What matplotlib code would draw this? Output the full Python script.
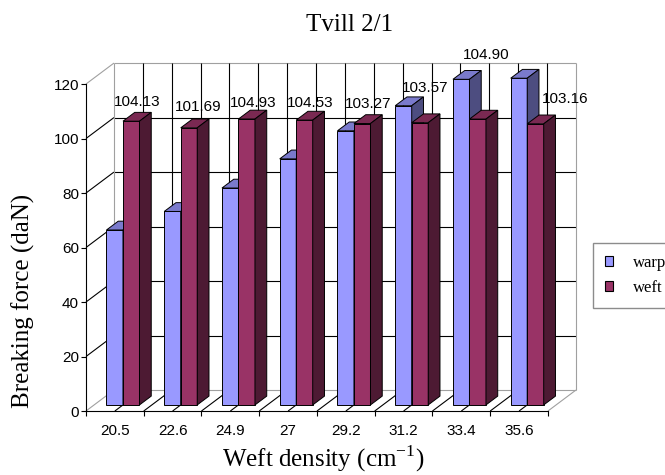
import matplotlib.pyplot as plt
from matplotlib.patches import Polygon, Patch

densidad = ["20.5", "22.6", "24.9", "27", "29.2", "31.2", "33.4", "35.6"]
warp = [64.2, 71.0, 79.6, 90.3, 100.6, 109.8, 119.5, 119.9]
weft = [104.13, 101.69, 104.93, 104.53, 103.27, 103.57, 104.90, 103.16]
y_ticks = [0, 20, 40, 60, 80, 100, 120]

# where each weft label sits, in pixels from the top of its bar
label_dx = [6, 9, 6, 6, 6, 5, 8, 30]
label_dy = [19, 21, 16, 17, 20, 35, 64, 25]

# fake 3d: depth of the box in data units, bars sit in the middle of it
DEPTH_X = 0.485
DEPTH_Y = 7.7
Z_FRONT, Z_BACK = 0.29, 0.71
BAR_W = 0.2857
YMAX = 120

WARP_COLORS = ("#9999FF", "#7A7ACC", "#4D4D80")
WEFT_COLORS = ("#993366", "#7A2952", "#4D1A33")

SANS = "Liberation Sans"
SERIF = "Liberation Serif"
plt.rcParams["mathtext.fontset"] = "custom"
plt.rcParams["mathtext.rm"] = SERIF


def linea(ax, x, y, color="black"):
    ax.plot(x, y, color=color, lw=0.8, clip_on=False, zorder=1,
            solid_capstyle="butt")


def caja(ax, x0, x1, h, colores):
    fx, fy = Z_FRONT * DEPTH_X, Z_FRONT * DEPTH_Y
    bx, by = Z_BACK * DEPTH_X, Z_BACK * DEPTH_Y
    frente = [(x0 + fx, fy), (x1 + fx, fy), (x1 + fx, h + fy), (x0 + fx, h + fy)]
    techo = [(x0 + fx, h + fy), (x1 + fx, h + fy), (x1 + bx, h + by), (x0 + bx, h + by)]
    lado = [(x1 + fx, fy), (x1 + bx, by), (x1 + bx, h + by), (x1 + fx, h + fy)]
    for puntos, c in zip((frente, techo, lado), colores):
        ax.add_patch(Polygon(puntos, closed=True, facecolor=c, edgecolor="black",
                             lw=0.7, clip_on=False, zorder=3))


def paredes(ax, n):
    gris = "#A0A0A0"
    # back wall and left wall grid
    for v in y_ticks:
        c = gris if v in (0, YMAX) else "black"
        linea(ax, [0, DEPTH_X], [v, v + DEPTH_Y], c)
        linea(ax, [DEPTH_X, n + DEPTH_X], [v + DEPTH_Y, v + DEPTH_Y], c)
    # floor and back wall vertical lines every half category
    for k in range(1, 2 * n):
        x = k / 2
        linea(ax, [x, x + DEPTH_X], [0, DEPTH_Y])
        linea(ax, [x + DEPTH_X, x + DEPTH_X], [DEPTH_Y, YMAX + DEPTH_Y])
    linea(ax, [DEPTH_X, DEPTH_X], [DEPTH_Y, YMAX + DEPTH_Y], gris)
    linea(ax, [n + DEPTH_X, n + DEPTH_X], [DEPTH_Y, YMAX + DEPTH_Y], gris)
    linea(ax, [n, n + DEPTH_X], [0, DEPTH_Y], gris)


fig = plt.figure(figsize=(6.65, 4.75), dpi=100)
ax = fig.add_axes([0.1293, 0.1347, 0.6947, 0.6884])
ax.patch.set_visible(False)
n = len(densidad)
ax.set_xlim(0, n)
ax.set_ylim(0, YMAX)

paredes(ax, n)

for i in range(n):
    x0 = i + 0.5 - BAR_W
    caja(ax, x0, x0 + BAR_W, warp[i], WARP_COLORS)
    caja(ax, x0 + BAR_W, x0 + 2 * BAR_W, weft[i], WEFT_COLORS)
    ax.annotate(f"{weft[i]:.2f}",
                xy=(i + 0.5 + BAR_W / 2 + Z_FRONT * DEPTH_X, weft[i] + Z_FRONT * DEPTH_Y),
                xytext=(label_dx[i], label_dy[i]), textcoords="offset pixels",
                ha="center", va="center", fontsize=11, family=SANS,
                annotation_clip=False, zorder=5)

for lado in ("top", "right"):
    ax.spines[lado].set_visible(False)
for lado in ("left", "bottom"):
    ax.spines[lado].set_linewidth(0.8)
    ax.spines[lado].set_zorder(4)

ax.set_yticks(y_ticks)
ax.set_yticklabels([str(v) for v in y_ticks], family=SANS, fontsize=11)
ax.set_xticks(range(n + 1))
ax.set_xticklabels([])
ax.set_xticks([i + 0.5 for i in range(n)], minor=True)
ax.set_xticklabels(densidad, minor=True, family=SANS, fontsize=11)
ax.tick_params(axis="y", length=3.6, width=0.8, pad=1.5)
ax.tick_params(axis="x", which="major", length=3.6, width=0.8)
ax.tick_params(axis="x", which="minor", length=0, pad=9)

fig.text(350 / 665, 1 - 25 / 475, "Tvill 2/1", family=SERIF, fontsize=18,
         ha="center", va="center")
fig.text(323 / 665, 1 - 467 / 475, "Weft density (cm$^{-1}$)", family=SERIF,
         fontsize=18, ha="center", va="baseline")
fig.text(23 / 665, 1 - 301 / 475, "Breaking force (daN)", family=SERIF,
         fontsize=18, ha="center", va="center", rotation=90)

handles = [Patch(facecolor=WARP_COLORS[0], edgecolor="black", lw=0.8, label="warp"),
           Patch(facecolor=WEFT_COLORS[0], edgecolor="black", lw=0.8, label="weft")]
fig.legend(handles=handles, loc="upper left", bbox_to_anchor=(593 / 665, 1 - 243 / 475),
           frameon=True, fancybox=False, edgecolor="#707070",
           prop={"family": SERIF, "size": 12}, handlelength=0.5, handleheight=0.5,
           handletextpad=1.2, labelspacing=0.55, borderpad=0.7, borderaxespad=0)

fig.savefig("out.png", dpi=100)
